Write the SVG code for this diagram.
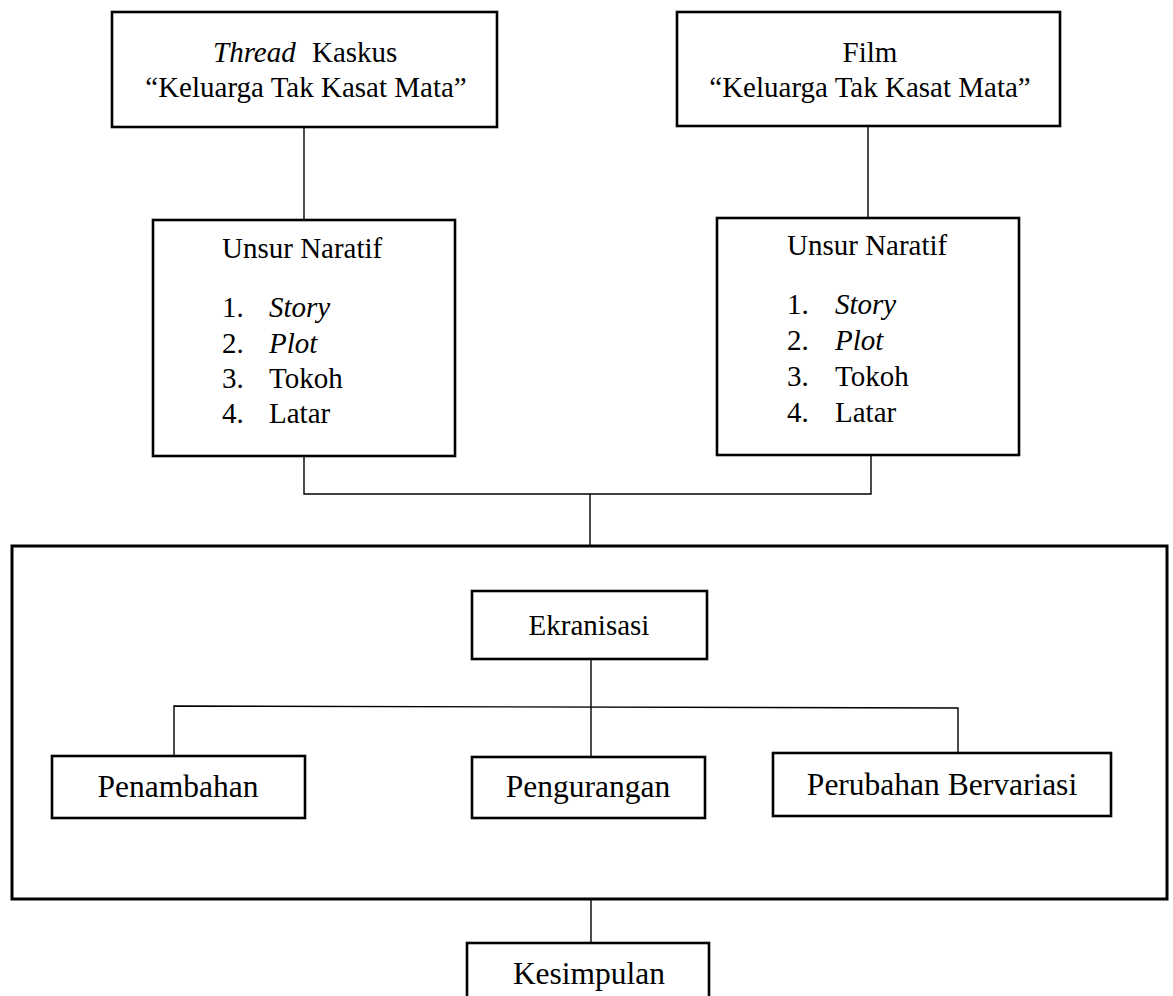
<svg xmlns="http://www.w3.org/2000/svg" width="1173" height="996" viewBox="0 0 1173 996">
<style>
  .box { fill: #fff; stroke: #000; stroke-width: 2.6; }
  .big { fill: none; stroke: #000; stroke-width: 3; }
  .conn { fill: none; stroke: #000; stroke-width: 1.4; }
  text { font-family: "Liberation Serif", "Times New Roman", serif; fill: #000; }
  .t29 { font-size: 29px; }
  .t31 { font-size: 31.5px; }
  .mid { text-anchor: middle; }
  .it { font-style: italic; }
</style>
<rect width="1173" height="996" fill="#fff"/>
<g id="connectors">
  <line class="conn" x1="304" y1="127" x2="304" y2="220"/>
  <line class="conn" x1="868" y1="126" x2="868" y2="218"/>
  <polyline class="conn" points="304,456 304,494 871,494 871,455"/>
  <line class="conn" x1="590" y1="494" x2="590" y2="546"/>
  <line class="conn" x1="591" y1="659" x2="591" y2="757"/>
  <polyline class="conn" points="174,756 174,706 958,708 958,753"/>
  <line class="conn" x1="591" y1="900" x2="591" y2="943"/>
</g>
<g id="thread-kaskus">
  <rect class="box" x="112" y="12" width="385" height="115"/>
  <text class="t29" y="62"><tspan class="it" x="213">Thread</tspan><tspan x="312">Kaskus</tspan></text>
  <text class="t29 mid" x="306" y="97">“Keluarga Tak Kasat Mata”</text>
</g>
<g id="film">
  <rect class="box" x="677" y="12" width="383" height="114"/>
  <text class="t29 mid" x="870" y="62">Film</text>
  <text class="t29 mid" x="870" y="97">“Keluarga Tak Kasat Mata”</text>
</g>
<g id="unsur-naratif-1">
  <rect class="box" x="153" y="220" width="302" height="236"/>
  <text class="t29" x="222" y="258">Unsur Naratif</text>
  <text class="t29" x="222" y="317">1.</text><text class="t29 it" x="269" y="317">Story</text>
  <text class="t29" x="222" y="352.5">2.</text><text class="t29 it" x="269" y="352.5">Plot</text>
  <text class="t29" x="222" y="388">3.</text><text class="t29" x="269" y="388">Tokoh</text>
  <text class="t29" x="222" y="423">4.</text><text class="t29" x="269" y="423">Latar</text>
</g>
<g id="unsur-naratif-2">
  <rect class="box" x="717" y="218" width="302" height="237"/>
  <text class="t29" x="787" y="255">Unsur Naratif</text>
  <text class="t29" x="787" y="314">1.</text><text class="t29 it" x="835" y="314">Story</text>
  <text class="t29" x="787" y="350">2.</text><text class="t29 it" x="835" y="350">Plot</text>
  <text class="t29" x="787" y="385.5">3.</text><text class="t29" x="835" y="385.5">Tokoh</text>
  <text class="t29" x="787" y="421.5">4.</text><text class="t29" x="835" y="421.5">Latar</text>
</g>
<g id="ekranisasi-frame">
  <rect class="big" x="12" y="546" width="1155" height="353"/>
</g>
<g id="ekranisasi">
  <rect class="box" x="472" y="591" width="235" height="68"/>
  <text class="t29 mid" x="589" y="635">Ekranisasi</text>
</g>
<g id="penambahan">
  <rect class="box" x="52" y="756" width="253" height="62"/>
  <text class="t31 mid" x="178" y="797">Penambahan</text>
</g>
<g id="pengurangan">
  <rect class="box" x="472" y="757" width="233" height="61"/>
  <text class="t31 mid" x="588" y="797">Pengurangan</text>
</g>
<g id="perubahan-bervariasi">
  <rect class="box" x="773" y="753" width="338" height="63"/>
  <text class="t31 mid" x="942" y="795">Perubahan Bervariasi</text>
</g>
<g id="kesimpulan">
  <rect class="box" x="467" y="943" width="242" height="70"/>
  <text class="t31 mid" x="589" y="984">Kesimpulan</text>
</g>
</svg>
